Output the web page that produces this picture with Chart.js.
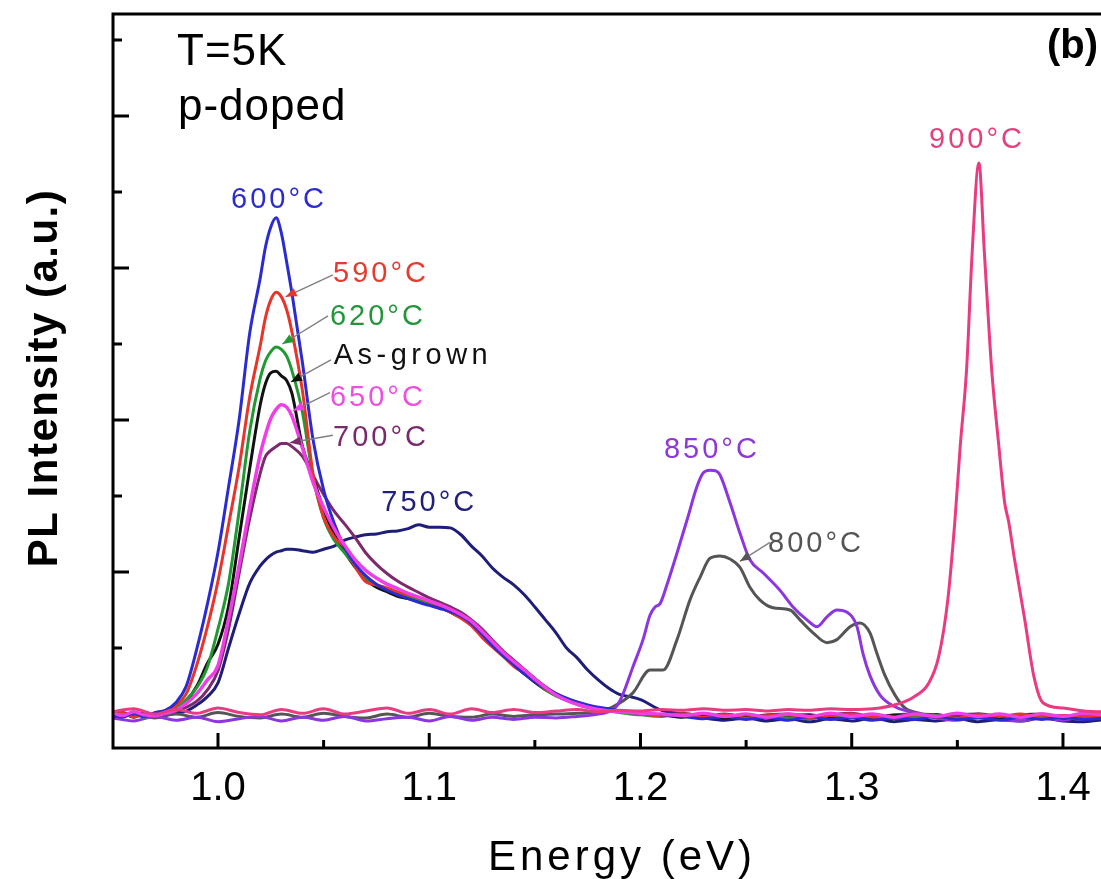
<!DOCTYPE html>
<html>
<head>
<meta charset="utf-8">
<title>PL spectra, p-doped, T=5K</title>
<script src="https://cdn.jsdelivr.net/npm/chart.js@4.4.0/dist/chart.umd.min.js"></script>
<style>
  html, body { margin: 0; padding: 0; background: #fff; overflow: hidden; }
  canvas { display: block; }
</style>
</head>
<body>
<canvas id="plChart" width="1101" height="879"></canvas>
<script>
// energy grid (eV) shared by the low-energy spectra
const energyLow = [
  0.950, 0.955, 0.960, 0.965, 0.970, 0.975, 0.980, 0.985, 0.990, 0.995,
  1.000, 1.005, 1.010, 1.015, 1.020, 1.0225, 1.025, 1.0275, 1.030, 1.0325,
  1.035, 1.040, 1.045, 1.050, 1.055, 1.060, 1.065, 1.070, 1.075, 1.080,
  1.085, 1.090, 1.095, 1.100, 1.105, 1.110, 1.115, 1.120, 1.125, 1.130,
  1.135, 1.140, 1.145, 1.150, 1.155, 1.160, 1.165, 1.170, 1.175, 1.180,
  1.185, 1.190, 1.195, 1.200, 1.210, 1.220, 1.230, 1.240, 1.250, 1.260,
  1.270, 1.280, 1.290, 1.300, 1.310, 1.320, 1.330, 1.340, 1.350, 1.360,
  1.370, 1.380, 1.390, 1.400, 1.410, 1.420
];

const int600 = [
  0.12, 0.09, 0.14, 0.10, 0.15, 0.18, 0.28, 0.50, 0.99, 1.58,
  2.26, 3.12, 4.00, 5.14, 5.87, 6.28, 6.54, 6.66, 6.46, 6.08,
  5.67, 4.75, 3.74, 3.08, 2.64, 2.32, 2.10, 1.95, 1.84, 1.76,
  1.70, 1.65, 1.60, 1.56, 1.52, 1.48, 1.42, 1.32, 1.18, 1.03,
  0.90, 0.78, 0.66, 0.56, 0.47, 0.40, 0.34, 0.29, 0.25, 0.22,
  0.20, 0.17, 0.15, 0.14, 0.12, 0.10, 0.07, 0.10, 0.06, 0.09,
  0.05, 0.10, 0.06, 0.09, 0.05, 0.08, 0.06, 0.10, 0.06, 0.08,
  0.05, 0.09, 0.06, 0.09, 0.06, 0.08
];
const int590 = [
  0.11, 0.14, 0.09, 0.13, 0.12, 0.15, 0.24, 0.40, 0.78, 1.28,
  1.88, 2.62, 3.38, 4.30, 4.98, 5.35, 5.58, 5.68, 5.62, 5.45,
  5.16, 4.38, 3.29, 2.72, 2.46, 2.32, 2.07, 1.87, 1.83, 1.79,
  1.74, 1.70, 1.66, 1.61, 1.55, 1.47, 1.39, 1.29, 1.14, 1.01,
  0.89, 0.76, 0.67, 0.57, 0.46, 0.39, 0.33, 0.28, 0.24, 0.21,
  0.19, 0.16, 0.15, 0.13, 0.11, 0.13, 0.09, 0.12, 0.08, 0.11,
  0.12, 0.08, 0.11, 0.13, 0.09, 0.08, 0.12, 0.10, 0.08, 0.12,
  0.10, 0.13, 0.08, 0.11, 0.10, 0.12
];
const int620 = [
  0.13, 0.10, 0.13, 0.09, 0.14, 0.14, 0.20, 0.32, 0.48, 0.75,
  1.25, 1.85, 2.80, 3.85, 4.55, 4.78, 4.90, 4.96, 4.93, 4.84,
  4.65, 4.10, 3.25, 2.71, 2.42, 2.25, 2.08, 1.92, 1.83, 1.77,
  1.72, 1.68, 1.64, 1.59, 1.54, 1.48, 1.41, 1.31, 1.18, 1.04,
  0.92, 0.79, 0.68, 0.57, 0.45, 0.37, 0.31, 0.26, 0.22, 0.19,
  0.17, 0.15, 0.13, 0.12, 0.10, 0.12, 0.08, 0.11, 0.07, 0.10,
  0.08, 0.07, 0.11, 0.08, 0.12, 0.07, 0.09, 0.11, 0.07, 0.09,
  0.11, 0.07, 0.09, 0.11, 0.08, 0.10
];
const intAsGrown = [
  0.10, 0.13, 0.10, 0.14, 0.11, 0.14, 0.19, 0.30, 0.50, 0.80,
  1.05, 1.55, 2.45, 3.36, 4.20, 4.48, 4.62, 4.64, 4.58, 4.52,
  4.35, 3.65, 3.25, 2.82, 2.50, 2.26, 2.06, 1.90, 1.80, 1.74,
  1.68, 1.65, 1.61, 1.57, 1.53, 1.47, 1.40, 1.30, 1.17, 1.03,
  0.90, 0.78, 0.66, 0.55, 0.45, 0.38, 0.32, 0.27, 0.23, 0.20,
  0.18, 0.16, 0.14, 0.13, 0.12, 0.09, 0.12, 0.08, 0.11, 0.08,
  0.11, 0.12, 0.08, 0.11, 0.07, 0.11, 0.08, 0.12, 0.08, 0.10,
  0.08, 0.11, 0.12, 0.08, 0.10, 0.09
];
const int650 = [
  0.15, 0.11, 0.16, 0.12, 0.11, 0.14, 0.18, 0.27, 0.40, 0.58,
  0.77, 1.38, 2.08, 2.85, 3.55, 3.81, 4.02, 4.14, 4.20, 4.17,
  4.05, 3.63, 3.18, 2.85, 2.57, 2.35, 2.16, 2.02, 1.92, 1.84,
  1.78, 1.72, 1.67, 1.62, 1.57, 1.51, 1.44, 1.35, 1.22, 1.08,
  0.94, 0.82, 0.71, 0.59, 0.48, 0.38, 0.31, 0.26, 0.22, 0.19,
  0.17, 0.16, 0.15, 0.14, 0.13, 0.11, 0.14, 0.10, 0.13, 0.09,
  0.13, 0.10, 0.14, 0.10, 0.13, 0.09, 0.13, 0.10, 0.14, 0.10,
  0.13, 0.09, 0.13, 0.10, 0.14, 0.12
];
const int700 = [
  0.12, 0.15, 0.10, 0.14, 0.11, 0.14, 0.17, 0.22, 0.30, 0.45,
  0.70, 1.25, 1.98, 2.70, 3.30, 3.52, 3.60, 3.65, 3.69, 3.69,
  3.65, 3.52, 3.27, 3.02, 2.80, 2.63, 2.45, 2.25, 2.10, 1.98,
  1.88, 1.80, 1.73, 1.66, 1.60, 1.54, 1.47, 1.37, 1.25, 1.10,
  0.96, 0.84, 0.72, 0.60, 0.49, 0.40, 0.33, 0.28, 0.24, 0.21,
  0.19, 0.17, 0.15, 0.14, 0.12, 0.14, 0.10, 0.13, 0.09, 0.12,
  0.13, 0.09, 0.12, 0.14, 0.09, 0.12, 0.13, 0.09, 0.12, 0.13,
  0.09, 0.12, 0.13, 0.09, 0.12, 0.10
];
const int750 = [
  0.11, 0.14, 0.09, 0.13, 0.10, 0.12, 0.15, 0.17, 0.25, 0.36,
  0.54, 1.00, 1.45, 1.85, 2.08, 2.16, 2.22, 2.26, 2.28, 2.30,
  2.30, 2.28, 2.26, 2.30, 2.34, 2.42, 2.46, 2.49, 2.50, 2.53,
  2.54, 2.57, 2.62, 2.59, 2.59, 2.58, 2.49, 2.34, 2.21, 2.05,
  1.93, 1.83, 1.70, 1.54, 1.37, 1.20, 1.00, 0.87, 0.71, 0.58,
  0.47, 0.39, 0.36, 0.32, 0.18, 0.13, 0.08, 0.05, 0.08, 0.04,
  0.07, 0.03, 0.07, 0.04, 0.08, 0.03, 0.06, 0.04, 0.07, 0.03,
  0.06, 0.04, 0.08, 0.04, 0.03, 0.06
];

// high-temperature anneals: each spectrum has its own energy points
const energy800 = [
  0.95, 0.96, 0.97, 0.98, 0.99, 1.00, 1.01, 1.02, 1.03, 1.04, 1.05, 1.06,
  1.07, 1.08, 1.09, 1.10, 1.11, 1.12, 1.13, 1.14, 1.15, 1.16, 1.17, 1.18,
  1.1865, 1.1964, 1.2045, 1.2107, 1.2173, 1.2234, 1.2282, 1.2329, 1.2376, 1.2424,
  1.2471, 1.2518, 1.2566, 1.2627, 1.2708, 1.2755, 1.2817, 1.2883, 1.293, 1.2992,
  1.3039, 1.3086, 1.3119, 1.3157, 1.3205, 1.3252, 1.3323,
  1.34, 1.35, 1.36, 1.37, 1.38, 1.39, 1.40, 1.41, 1.42
];
const int800 = [
  0.10, 0.14, 0.08, 0.13, 0.09, 0.15, 0.10, 0.08, 0.13, 0.09, 0.14, 0.10,
  0.08, 0.13, 0.09, 0.14, 0.10, 0.09, 0.13, 0.10, 0.12, 0.13, 0.14, 0.16,
  0.22, 0.41, 0.71, 0.71, 1.11, 1.63, 1.93, 2.18, 2.21, 2.17,
  2.06, 1.80, 1.63, 1.53, 1.50, 1.37, 1.20, 1.07, 1.11, 1.28,
  1.33, 1.20, 0.93, 0.64, 0.38, 0.21, 0.14,
  0.12, 0.09, 0.13, 0.10, 0.08, 0.12, 0.09, 0.11, 0.08
];
const energy850 = [
  0.95, 0.96, 0.97, 0.98, 0.99, 1.00, 1.01, 1.02, 1.03, 1.04, 1.05, 1.06,
  1.07, 1.08, 1.09, 1.10, 1.11, 1.12, 1.13, 1.14, 1.15, 1.16, 1.17, 1.18,
  1.188, 1.1912, 1.1964, 1.2012, 1.2045, 1.2069, 1.2092, 1.2125, 1.2173, 1.222,
  1.2267, 1.2296, 1.2329, 1.2357, 1.2376, 1.2424, 1.2471, 1.2518, 1.258, 1.266,
  1.2722, 1.2788, 1.2836, 1.2883, 1.293, 1.2978, 1.3025, 1.3053, 1.3086, 1.3134,
  1.3195, 1.3276,
  1.34, 1.35, 1.36, 1.37, 1.38, 1.39, 1.40, 1.41, 1.42
];
const int850 = [
  0.08, 0.04, 0.10, 0.05, 0.09, 0.03, 0.07, 0.10, 0.04, 0.09, 0.05, 0.10,
  0.04, 0.07, 0.09, 0.04, 0.10, 0.05, 0.09, 0.06, 0.09, 0.08, 0.10, 0.13,
  0.21, 0.36, 0.75, 1.11, 1.43, 1.54, 1.58, 1.83, 2.25, 2.68,
  3.12, 3.30, 3.34, 3.33, 3.28, 2.91, 2.51, 2.16, 1.99, 1.76,
  1.54, 1.37, 1.28, 1.41, 1.50, 1.47, 1.28, 0.93, 0.64, 0.38,
  0.24, 0.16,
  0.08, 0.05, 0.10, 0.06, 0.04, 0.09, 0.05, 0.10, 0.07
];
const energy900 = [
  0.95, 0.96, 0.97, 0.98, 0.99, 1.00, 1.01, 1.02, 1.03, 1.04, 1.05, 1.06,
  1.07, 1.08, 1.09, 1.10, 1.11, 1.12, 1.13, 1.14, 1.15, 1.16, 1.17, 1.18,
  1.19, 1.20, 1.21, 1.22, 1.23, 1.24, 1.25, 1.26, 1.27, 1.28, 1.29, 1.30,
  1.31, 1.3214, 1.329, 1.3365, 1.3412, 1.3455, 1.3488, 1.3514, 1.3544, 1.357,
  1.3602, 1.3628, 1.3662, 1.3696, 1.3724, 1.3743, 1.3771, 1.3818, 1.3862, 1.3905,
  1.40, 1.41, 1.418
];
const int900 = [
  0.16, 0.20, 0.13, 0.19, 0.14, 0.21, 0.15, 0.12, 0.19, 0.14, 0.20, 0.13,
  0.17, 0.21, 0.14, 0.19, 0.13, 0.20, 0.15, 0.19, 0.15, 0.17, 0.19, 0.16,
  0.18, 0.17, 0.19, 0.18, 0.20, 0.18, 0.19, 0.17, 0.19, 0.18, 0.20, 0.19,
  0.20, 0.26, 0.35, 0.54, 0.89, 1.64, 2.66, 3.67, 4.68, 6.20,
  7.38, 6.20, 4.68, 3.67, 2.91, 2.66, 2.16, 1.39, 0.63, 0.28,
  0.21, 0.17, 0.16
];

// axis ticks (drawn pointing inwards, no labels on the intensity axis)
const xMajorTicks = [1.0, 1.1, 1.2, 1.3, 1.4];
const xTickLabels = ['1.0', '1.1', '1.2', '1.3', '1.4'];
const xMinorTicks = [1.05, 1.15, 1.25, 1.35];
const yMajorTicks = [2, 4, 6, 8];
const yMinorTicks = [1, 3, 5, 7, 9];

const FONT = '"Liberation Sans", Arial, Helvetica, sans-serif';

function toPoints(xs, ys) {
  return xs.map((x, i) => ({ x: x, y: ys[i] }));
}

// first entry is drawn on top
const series = [
  { label: '900°C',    e: energy900, v: int900,     color: '#ea3a80', width: 3 },
  { label: '650°C',    e: energyLow, v: int650,     color: '#f03ee6', width: 3.5 },
  { label: '600°C',    e: energyLow, v: int600,     color: '#2b2bd2', width: 3 },
  { label: '590°C',    e: energyLow, v: int590,     color: '#e8342a', width: 3 },
  { label: '620°C',    e: energyLow, v: int620,     color: '#1f9a30', width: 3 },
  { label: 'As-grown', e: energyLow, v: intAsGrown, color: '#111111', width: 3 },
  { label: '700°C',    e: energyLow, v: int700,     color: '#7d2a6c', width: 3 },
  { label: '850°C',    e: energy850, v: int850,     color: '#8c35e0', width: 3 },
  { label: '800°C',    e: energy800, v: int800,     color: '#555555', width: 3 },
  { label: '750°C',    e: energyLow, v: int750,     color: '#1e1e7a', width: 3 }
];

// curve labels in data units (x = energy, y = text baseline)
const curveLabels = [
  { text: '600°C',    color: '#2b2bcf', x: 1.0289, y: 6.79 },
  { text: '590°C',    color: '#e53a2e', x: 1.0772, y: 5.82 },
  { text: '620°C',    color: '#23963a', x: 1.0757, y: 5.25 },
  { text: 'As-grown', color: '#111111', x: 1.0923, y: 4.74, spacing: 4.5 },
  { text: '650°C',    color: '#ee4fe0', x: 1.0757, y: 4.18 },
  { text: '700°C',    color: '#7a2a6a', x: 1.0772, y: 3.66 },
  { text: '750°C',    color: '#20207a', x: 1.1000, y: 2.80 },
  { text: '850°C',    color: '#8d38d8', x: 1.2338, y: 3.50 },
  { text: '800°C',    color: '#555555', x: 1.2831, y: 2.26 },
  { text: '900°C',    color: '#e4407e', x: 1.3593, y: 7.58 }
];

// leader lines from a label to an arrow on its curve
const leaders = [
  { color: '#e8342a', from: [1.0544, 5.91], to: [1.0320, 5.62] },
  { color: '#1f9a30', from: [1.0521, 5.37], to: [1.0305, 5.00] },
  { color: '#111111', from: [1.0535, 4.79], to: [1.0345, 4.50] },
  { color: '#f03ee6', from: [1.0530, 4.36], to: [1.0355, 4.12] },
  { color: '#7d2a6c', from: [1.0544, 3.80], to: [1.0340, 3.70] },
  { color: '#555555', from: [1.2613, 2.39], to: [1.2471, 2.14] }
];

const frameAndNotes = {
  id: 'frameAndNotes',
  afterDatasetsDraw(chart) {
    const ctx = chart.ctx;
    const area = chart.chartArea;
    const xs = chart.scales.x;
    const ys = chart.scales.y;
    ctx.save();

    // frame: top, left and bottom lines (right side runs off the page)
    ctx.strokeStyle = '#000';
    ctx.lineWidth = 3;
    ctx.lineCap = 'square';
    ctx.beginPath();
    ctx.moveTo(area.right + 3, area.top);
    ctx.lineTo(area.left, area.top);
    ctx.lineTo(area.left, area.bottom);
    ctx.lineTo(area.right + 3, area.bottom);
    ctx.stroke();

    // inward ticks
    ctx.lineCap = 'butt';
    ctx.beginPath();
    xMajorTicks.forEach(v => {
      const px = xs.getPixelForValue(v);
      ctx.moveTo(px, area.bottom); ctx.lineTo(px, area.bottom - 15);
    });
    xMinorTicks.forEach(v => {
      const px = xs.getPixelForValue(v);
      ctx.moveTo(px, area.bottom); ctx.lineTo(px, area.bottom - 8);
    });
    yMajorTicks.forEach(v => {
      const py = ys.getPixelForValue(v);
      ctx.moveTo(area.left, py); ctx.lineTo(area.left + 16, py);
    });
    yMinorTicks.forEach(v => {
      const py = ys.getPixelForValue(v);
      ctx.moveTo(area.left, py); ctx.lineTo(area.left + 9, py);
    });
    ctx.stroke();

    // tick labels and axis titles
    ctx.fillStyle = '#000';
    ctx.textAlign = 'center';
    ctx.textBaseline = 'alphabetic';
    ctx.font = '40px ' + FONT;
    xMajorTicks.forEach((v, i) => {
      ctx.fillText(xTickLabels[i], xs.getPixelForValue(v), area.bottom + 52);
    });

    ctx.letterSpacing = '4px';
    ctx.font = '42px ' + FONT;
    ctx.fillText('Energy (eV)', 622, area.bottom + 122);

    ctx.save();
    ctx.letterSpacing = '1.5px';
    ctx.font = 'bold 42px ' + FONT;
    ctx.translate(57, 378);
    ctx.rotate(-Math.PI / 2);
    ctx.fillText('PL Intensity (a.u.)', 0, 0);
    ctx.restore();

    // panel notes
    ctx.textAlign = 'left';
    ctx.letterSpacing = '1px';
    ctx.font = '44px ' + FONT;
    ctx.fillText('T=5K', 177, 65);
    ctx.fillText('p-doped', 178, 120);
    ctx.letterSpacing = '0px';
    ctx.font = 'bold 40px ' + FONT;
    ctx.fillText('(b)', 1047, 58);

    // leader lines with arrowheads
    leaders.forEach(l => {
      const fx = xs.getPixelForValue(l.from[0]), fy = ys.getPixelForValue(l.from[1]);
      const tx = xs.getPixelForValue(l.to[0]), ty = ys.getPixelForValue(l.to[1]);
      ctx.strokeStyle = '#808080';
      ctx.lineWidth = 1.4;
      ctx.beginPath();
      ctx.moveTo(fx, fy);
      ctx.lineTo(tx, ty);
      ctx.stroke();
      const a = Math.atan2(ty - fy, tx - fx);
      const bx = tx - 11 * Math.cos(a), by = ty - 11 * Math.sin(a);
      ctx.fillStyle = l.color;
      ctx.beginPath();
      ctx.moveTo(tx, ty);
      ctx.lineTo(bx + 4.5 * Math.sin(a), by - 4.5 * Math.cos(a));
      ctx.lineTo(bx - 4.5 * Math.sin(a), by + 4.5 * Math.cos(a));
      ctx.closePath();
      ctx.fill();
    });

    // curve labels
    ctx.textAlign = 'center';
    ctx.font = '29px ' + FONT;
    curveLabels.forEach(c => {
      ctx.letterSpacing = (c.spacing || 3) + 'px';
      ctx.fillStyle = c.color;
      ctx.fillText(c.text, xs.getPixelForValue(c.x), ys.getPixelForValue(c.y));
    });

    ctx.restore();
  }
};

const datasets = series.map(s => ({
  label: s.label,
  data: toPoints(s.e, s.v),
  borderColor: s.color,
  borderWidth: s.width,
  pointRadius: 0,
  fill: false,
  cubicInterpolationMode: 'monotone'
}));

new Chart(document.getElementById('plChart'), {
  type: 'line',
  data: { datasets: datasets },
  options: {
    responsive: false,
    animation: false,
    devicePixelRatio: 1,
    layout: { padding: { left: 113, top: 14, right: 0, bottom: 131 } },
    scales: {
      x: { type: 'linear', min: 0.9503, max: 1.418, display: false },
      y: { type: 'linear', min: -0.316, max: 9.342, display: false }
    },
    elements: {
      line: { borderJoinStyle: 'round', borderCapStyle: 'round' }
    },
    plugins: {
      legend: { display: false },
      tooltip: { enabled: false }
    }
  },
  plugins: [frameAndNotes]
});
</script>
</body>
</html>
